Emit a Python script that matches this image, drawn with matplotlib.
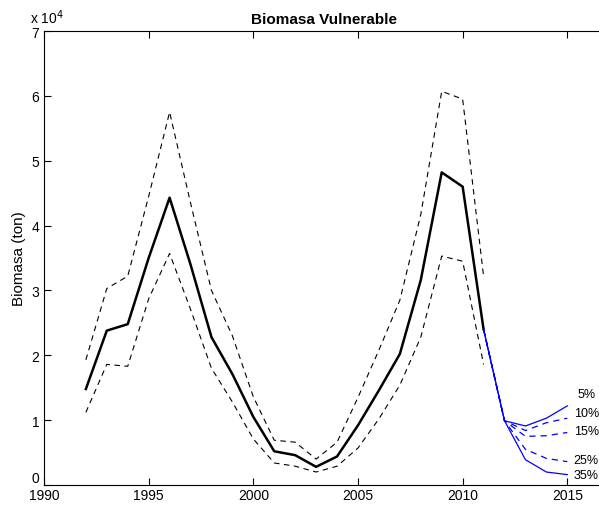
import matplotlib
matplotlib.use('Agg')
import matplotlib.pyplot as plt

plt.rcParams['font.family'] = ['Liberation Sans', 'DejaVu Sans']

years = list(range(1992, 2012))
central = [1.48, 2.38, 2.48, 3.50, 4.43, 3.40, 2.28, 1.71, 1.05, 0.52,
           0.46, 0.28, 0.44, 0.92, 1.46, 2.02, 3.16, 4.82, 4.60, 2.40]
upper = [1.93, 3.03, 3.22, 4.45, 5.75, 4.35, 3.00, 2.30, 1.36, 0.69,
         0.66, 0.40, 0.66, 1.35, 2.08, 2.85, 4.17, 6.07, 5.95, 3.22]
lower = [1.12, 1.86, 1.83, 2.87, 3.57, 2.71, 1.80, 1.28, 0.71, 0.34,
         0.29, 0.20, 0.29, 0.57, 1.02, 1.54, 2.28, 3.53, 3.45, 1.86]

proj_years = [2011, 2012, 2013, 2014, 2015]
proj_labels = ['5%', '10%', '15%', '25%', '35%']
proj_values = {
    '5%':  [2.40, 0.99, 0.91, 1.03, 1.22],
    '10%': [2.40, 0.99, 0.84, 0.96, 1.03],
    '15%': [2.40, 0.99, 0.75, 0.76, 0.81],
    '25%': [2.40, 0.99, 0.55, 0.41, 0.36],
    '35%': [2.40, 0.99, 0.39, 0.20, 0.16],
}
proj_styles = {'5%': '-', '10%': '--', '15%': '--', '25%': '--', '35%': '-'}
# where the percentage labels sit (x in years, y in 1e4 ton)
label_x = {'5%': 2015.5, '10%': 2015.3, '15%': 2015.3, '25%': 2015.3, '35%': 2015.3}
label_y = {'5%': 1.40, '10%': 1.11, '15%': 0.83, '25%': 0.385, '35%': 0.155}

fig = plt.figure(figsize=(5.99, 5.06), dpi=100)
ax = fig.add_axes([44/599, 20/506, 1 - 44/599 + 0.01, 454/506])

ax.plot(years, upper, 'k--', lw=0.8, dashes=(5, 4))
ax.plot(years, lower, 'k--', lw=0.8, dashes=(5, 4))
ax.plot(years, central, 'k-', lw=1.8)

for lab in proj_labels:
    if proj_styles[lab] == '-':
        ax.plot(proj_years, proj_values[lab], color='blue', lw=0.9)
    else:
        ax.plot(proj_years, proj_values[lab], color='blue', lw=0.9, dashes=(5, 4))
    ax.text(label_x[lab], label_y[lab], lab, fontsize=9, va='center', ha='left')

ax.set_xlim(1990, 2016.8)
ax.set_ylim(0, 7)
ax.set_xticks([1990, 1995, 2000, 2005, 2010, 2015])
ax.set_yticks(range(0, 8))
ax.tick_params(direction='in', top=True, right=False, labelsize=10, length=5)
ax.tick_params(axis='x', pad=2)
ax.spines['right'].set_visible(False)
# the 0 label sits just above the corner, like the original
ax.get_yticklabels()[0].set_va('bottom')
ax.set_ylabel('Biomasa (ton)', fontsize=11)
ax.set_title('Biomasa Vulnerable', fontsize=11, fontweight='bold', pad=6)
ax.text(-0.025, 1.012, r'x 10$^{4}$', transform=ax.transAxes, fontsize=10,
        ha='left', va='bottom')

fig.savefig('out.png', dpi=100)
